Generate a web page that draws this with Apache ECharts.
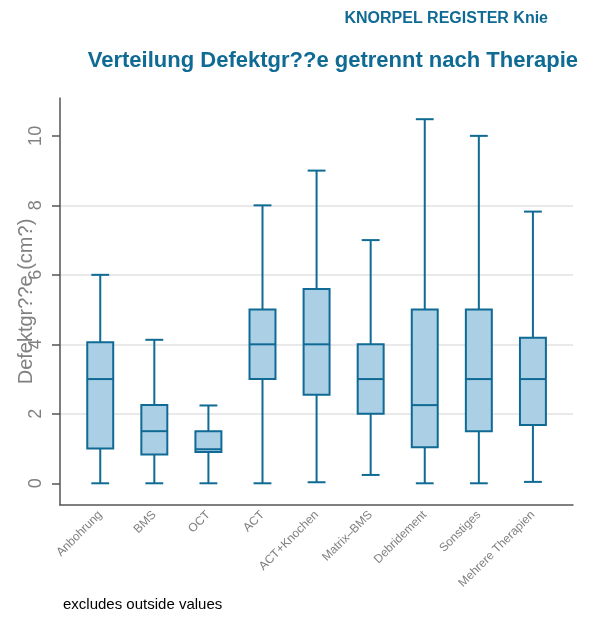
<!DOCTYPE html>
<html>
<head>
<meta charset="utf-8">
<script src="https://cdn.jsdelivr.net/npm/echarts@6/dist/echarts.min.js"></script>
<style>
  html, body { margin: 0; padding: 0; background: #fff; }
  #chart { width: 599px; height: 624px; }
</style>
</head>
<body>
<div id="chart"></div>
<script>
// Kategorien (Therapien)
const categories = ['Anbohrung', 'BMS', 'OCT', 'ACT', 'ACT+Knochen', 'Matrix–BMS', 'Debridement', 'Sonstiges', 'Mehrere Therapien']
// Boxplot-Kennwerte je Therapie
const lowWhisker = [0, 0, 0, 0, 0.03, 0.24, 0, 0, 0.04]
const q1 = [1, 0.83, 0.9, 3, 2.55, 2, 1.04, 1.5, 1.68]
const median = [3, 1.5, 0.98, 4, 4, 3, 2.25, 3, 3]
const q3 = [4.06, 2.25, 1.5, 5, 5.59, 4, 5, 5, 4.19]
const highWhisker = [6, 4.13, 2.24, 8, 9, 7, 10.48, 10, 7.82]
// Achsenbeschriftung
const yTicks = [0, 2, 4, 6, 8, 10]

const FONT = "'Liberation Sans', Arial, Helvetica, sans-serif"
const BLUE = '#0f6a94'
const FILL = '#abd0e6'

const boxData = categories.map((c, i) => [i, lowWhisker[i], q1[i], median[i], q3[i], highWhisker[i]])

const chart = echarts.init(document.getElementById('chart'))

// Box, Median, Whisker und Kappen zeichnen
const renderBox = (params, api) => {
  const x = api.value(0)
  const lo = api.coord([x, api.value(1)])
  const b1 = api.coord([x, api.value(2)])
  const md = api.coord([x, api.value(3)])
  const b3 = api.coord([x, api.value(4)])
  const hi = api.coord([x, api.value(5)])
  const unit = api.size([1, 0])[0]
  const half = unit * 0.24
  const cap = unit * 0.165
  const cx = lo[0]
  const lineStyle = { stroke: BLUE, lineWidth: 2 }
  return {
    type: 'group',
    children: [
      { type: 'line', shape: { x1: cx, y1: hi[1], x2: cx, y2: b3[1] }, style: lineStyle },
      { type: 'line', shape: { x1: cx, y1: b1[1], x2: cx, y2: lo[1] }, style: lineStyle },
      { type: 'line', shape: { x1: cx - cap, y1: hi[1], x2: cx + cap, y2: hi[1] }, style: lineStyle },
      { type: 'line', shape: { x1: cx - cap, y1: lo[1], x2: cx + cap, y2: lo[1] }, style: lineStyle },
      {
        type: 'rect',
        shape: { x: cx - half, y: b3[1], width: half * 2, height: b1[1] - b3[1] },
        style: { fill: FILL, stroke: BLUE, lineWidth: 2 },
      },
      { type: 'line', shape: { x1: cx - half, y1: md[1], x2: cx + half, y2: md[1] }, style: lineStyle },
    ],
  }
}

const options = {
  animation: false,
  title: [
    {
      text: 'KNORPEL REGISTER Knie',
      right: 51,
      top: 11,
      padding: 0,
      textStyle: { fontFamily: FONT, fontSize: 16, fontWeight: 'bold', color: BLUE },
    },
    {
      text: 'Verteilung Defektgr??e getrennt nach Therapie',
      right: 21,
      top: 50,
      padding: 0,
      textStyle: { fontFamily: FONT, fontSize: 22, fontWeight: 'bold', color: BLUE },
    },
    {
      text: 'excludes outside values',
      left: 63,
      top: 597,
      padding: 0,
      textStyle: { fontFamily: FONT, fontSize: 15, fontWeight: 'normal', color: '#000' },
    },
  ],
  grid: {
    left: 60,
    right: 26,
    top: 98,
    bottom: 119,
    containLabel: false,
    outerBoundsMode: 'none',
  },
  xAxis: {
    type: 'value',
    min: -0.744,
    max: 8.741,
    axisLine: { show: true, onZero: false, lineStyle: { color: '#555', width: 1.5 } },
    axisTick: { show: false },
    splitLine: { show: false },
    axisLabel: {
      customValues: categories.map((c, i) => i),
      formatter: (v) => categories[v] || '',
      rotate: 45,
      margin: 8,
      fontFamily: FONT,
      fontSize: 12,
      color: '#808080',
    },
  },
  yAxis: {
    type: 'value',
    min: -0.625,
    max: 11.09,
    name: 'Defektgr??e (cm?)',
    nameLocation: 'middle',
    nameGap: 24,
    nameMoveOverlap: false,
    nameTextStyle: { fontFamily: FONT, fontSize: 20, color: '#808080' },
    axisLine: { show: true, onZero: false, lineStyle: { color: '#555', width: 1.5 } },
    axisTick: { show: true, customValues: yTicks, length: 8, lineStyle: { color: '#555', width: 1.5 } },
    splitLine: {
      show: true,
      showMinLine: false,
      showMaxLine: false,
      lineStyle: { color: '#e2e2e2', width: 1.5 },
    },
    axisLabel: {
      customValues: yTicks,
      rotate: 90,
      margin: 15,
      fontFamily: FONT,
      fontSize: 18,
      color: '#808080',
    },
  },
  series: [
    {
      type: 'custom',
      renderItem: renderBox,
      encode: { x: 0, y: [1, 2, 3, 4, 5] },
      data: boxData,
    },
  ],
}

chart.setOption(options)
</script>
</body>
</html>
